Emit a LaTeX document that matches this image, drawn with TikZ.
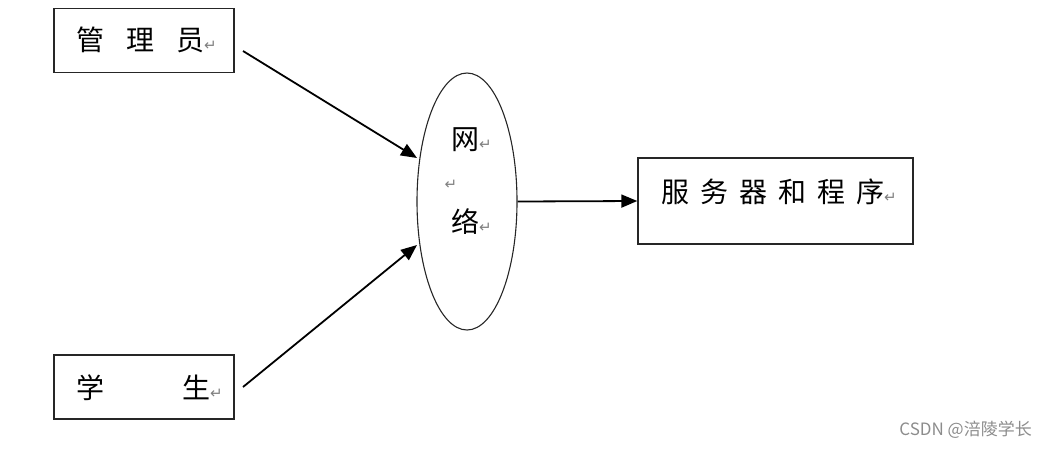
\documentclass[tikz,border=0pt]{standalone}
\usepackage{fontspec}
\newfontfamily\cjk{Noto Sans CJK SC}
\newfontfamily\dv{DejaVu Sans}
\usetikzlibrary{shapes.geometric,arrows.meta}
\newcommand{\rmark}{{\dv\fontsize{15}{15}\selectfont\textcolor{gray}{↵}}}
\begin{document}
\begin{tikzpicture}[x=1pt,y=-1pt,
  box/.style={draw=black!85,line width=1.4pt,minimum width=#1,inner sep=0pt},
  lbl/.style={font=\cjk\fontsize{28}{28}\selectfont,inner sep=0pt,anchor=west},
  arr/.style={line width=1.8pt,-{Triangle[length=16pt,width=13pt]}}]
\useasboundingbox (0,0) rectangle (1048,448);
% boxes
\node[box=180pt,minimum height=64pt] (adm) at (144,40.5) {};
\node[box=180pt,minimum height=64pt] (stu) at (144,387) {};
\node[box=275pt,minimum height=86pt] (srv) at (775.5,201) {};
\node[draw=black!85,line width=1.1pt,ellipse,minimum width=100pt,minimum height=257pt,inner sep=0pt] (net) at (467,201.5) {};
% labels
\node[lbl] (admt) at (76,40) {管\hspace{22pt}理\hspace{22pt}员\rmark};
\node[lbl] (stut) at (76,388) {学\hspace{78pt}生\rmark};
\node[lbl] (srvt) at (661,192) {服\hspace{11pt}务\hspace{11pt}器\hspace{11pt}和\hspace{11pt}程\hspace{11pt}序\rmark};
\node[lbl] (net1) at (451,140) {网\rmark};
\node[inner sep=0pt] (net2) at (451,185) {\rmark};
\node[lbl] (net3) at (451,222) {络\rmark};
% connectors
\coordinate (a0) at (243,51);
\coordinate (a1) at (417,158);
\coordinate (b0) at (243,387);
\coordinate (b1) at (417,245);
\draw[arr] (a0) -- (a1);
\draw[arr] (b0) -- (b1);
\draw[arr] (net.east) -- (srv.west);
% watermark
\node[font=\cjk\fontsize{17}{17}\selectfont,text=black!45,anchor=east,inner sep=0pt] (wm) at (1032,430) {CSDN @涪陵学长};
\end{tikzpicture}
\end{document}
